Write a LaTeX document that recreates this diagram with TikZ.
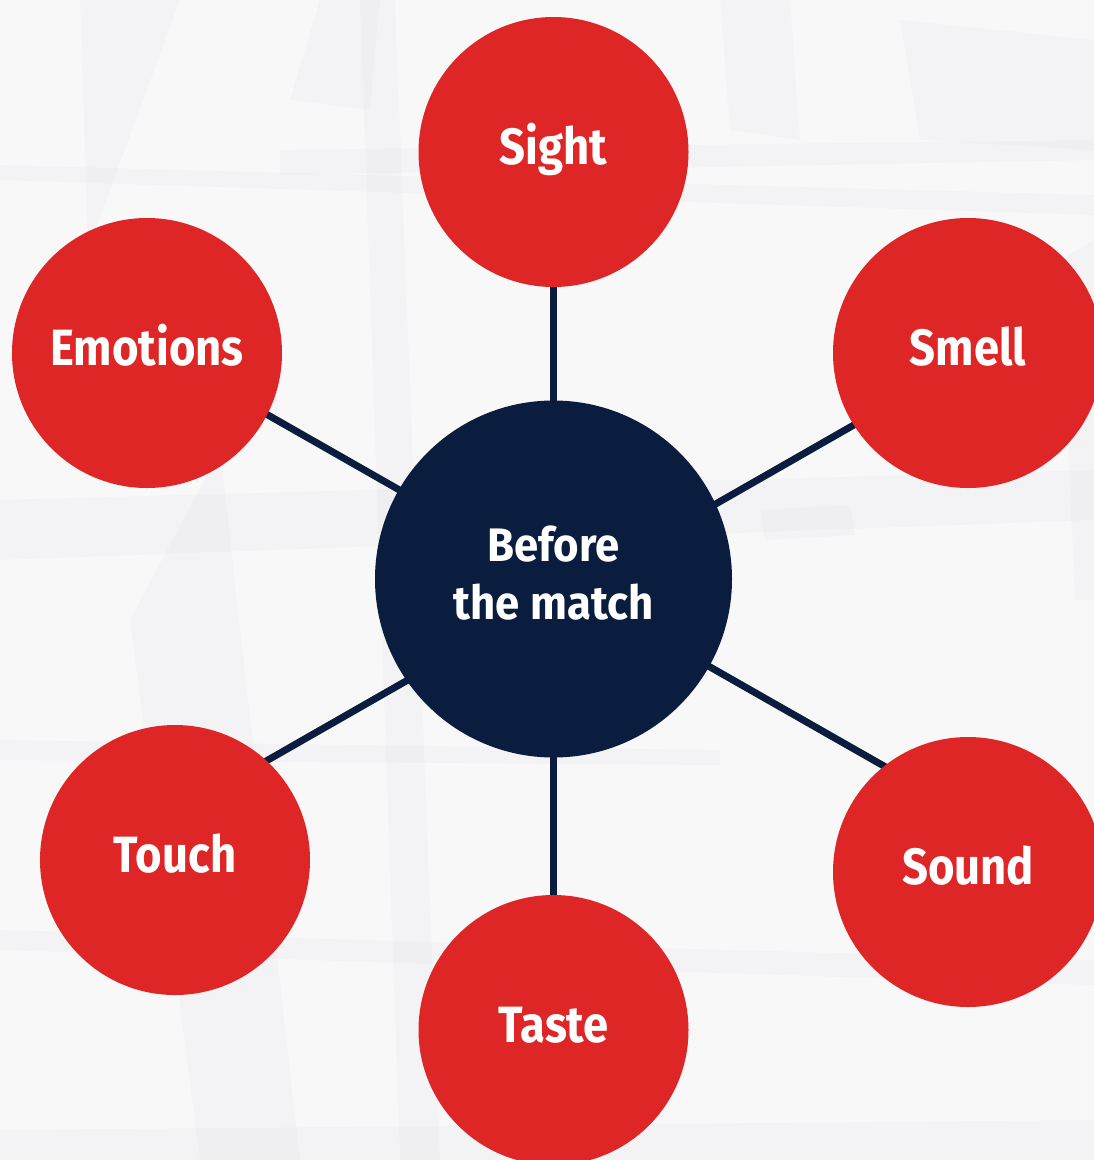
\documentclass[tikz,border=0pt]{standalone}
\usepackage{fontspec}
\setmainfont{Fira Sans}[UprightFont={* SemiBold},BoldFont={* Bold}]
\definecolor{redc}{HTML}{DF2626}
\definecolor{navy}{HTML}{0B1D3E}
\definecolor{bgc}{HTML}{F8F8F9}
\definecolor{shade}{HTML}{D8D9E0}
\tikzset{
  sense/.style={circle, fill=redc, minimum size=270pt, inner sep=0pt, text=white, text height=24pt, text depth=0pt, font=\fontsize{51}{53}\selectfont\bfseries},
  hub/.style={circle, fill=navy, minimum size=357pt, inner sep=0pt, text=white, align=center, font=\fontsize{47}{58}\selectfont\bfseries},
  link/.style={draw=navy, line width=7pt},
  facet/.style={fill=shade, opacity=0.13}
}
\newcommand{\cond}[1]{\scalebox{0.89}[1]{#1}}
\newcommand{\condh}[1]{\scalebox{0.93}[1]{#1}}
\begin{document}
\begin{tikzpicture}[x=1pt,y=-1pt]
\useasboundingbox (0,0) rectangle (1094,1160);
\fill[bgc] (0,0) rectangle (1094,1160);
\begin{scope}
\clip (0,0) rectangle (1094,1160);
\fill[facet] (80,0) -- (180,0) -- (88,250) -- cycle;
\fill[facet] (290,100) -- (320,0) -- (380,0) -- (370,110) -- cycle;
\fill[facet] (0,165) -- (1094,195) -- (1094,215) -- (0,180) -- cycle;
\fill[facet] (360,0) -- (395,0) -- (440,1160) -- (400,1160) -- cycle;
\fill[facet] (0,500) -- (1094,470) -- (1094,520) -- (0,560) -- cycle;
\fill[facet] (280,150) -- (1094,140) -- (1094,160) -- (280,175) -- cycle;
\fill[facet] (720,0) -- (790,0) -- (800,140) -- (730,130) -- cycle;
\fill[facet] (900,20) -- (1094,40) -- (1094,150) -- (920,140) -- cycle;
\fill[facet] (0,740) -- (720,750) -- (720,765) -- (0,760) -- cycle;
\fill[facet] (760,510) -- (850,505) -- (855,535) -- (765,540) -- cycle;
\fill[facet] (0,930) -- (1094,960) -- (1094,985) -- (0,950) -- cycle;
\fill[facet] (0,1130) -- (1094,1120) -- (1094,1160) -- (0,1160) -- cycle;
\fill[facet] (130,620) -- (220,450) -- (300,1160) -- (200,1160) -- cycle;
\fill[facet] (1060,260) -- (1094,240) -- (1094,600) -- (1075,600) -- cycle;
\end{scope}

\coordinate (pc) at (553.5,579);
\coordinate (psight) at (553.5,152);
\coordinate (pemo) at (147,353);
\coordinate (psmell) at (968,353);
\coordinate (ptouch) at (175,860);
\coordinate (psound) at (968,872);
\coordinate (ptaste) at (553.5,1030);
% spoke points inside the hub
\coordinate (hsight) at (553.5,579);
\coordinate (htaste) at (553.5,579);
\coordinate (hemo) at (553,577.5);
\coordinate (hsound) at (553,577.5);
\coordinate (hsmell) at (553,597);
\coordinate (htouch) at (553,597);
% spoke ends inside the outer circles
\coordinate (esight) at (psight);
\coordinate (etaste) at (ptaste);
\coordinate (eemo) at (210,382);
\coordinate (esound) at (930,792.3);
\coordinate (esmell) at (900,398.6);
\coordinate (etouch) at (220,787.4);
\foreach \n in {sight,emo,smell,touch,sound,taste}
  \path[link] (h\n) -- (e\n);

\node[hub] (c) at (pc) {\condh{Before}\\\condh{the match}\rule[-12pt]{0pt}{12pt}};
\node[sense] (sight) at (psight) {\cond{Sight}};
\node[sense] (emo) at (pemo) {\cond{Emotions}};
\node[sense] (smell) at (psmell) {\cond{Smell}};
\node[sense] (touch) at (ptouch) {\cond{Touch}};
\node[sense] (sound) at (psound) {\cond{Sound}};
\node[sense] (taste) at (ptaste) {\cond{Taste}};
\end{tikzpicture}
\end{document}
